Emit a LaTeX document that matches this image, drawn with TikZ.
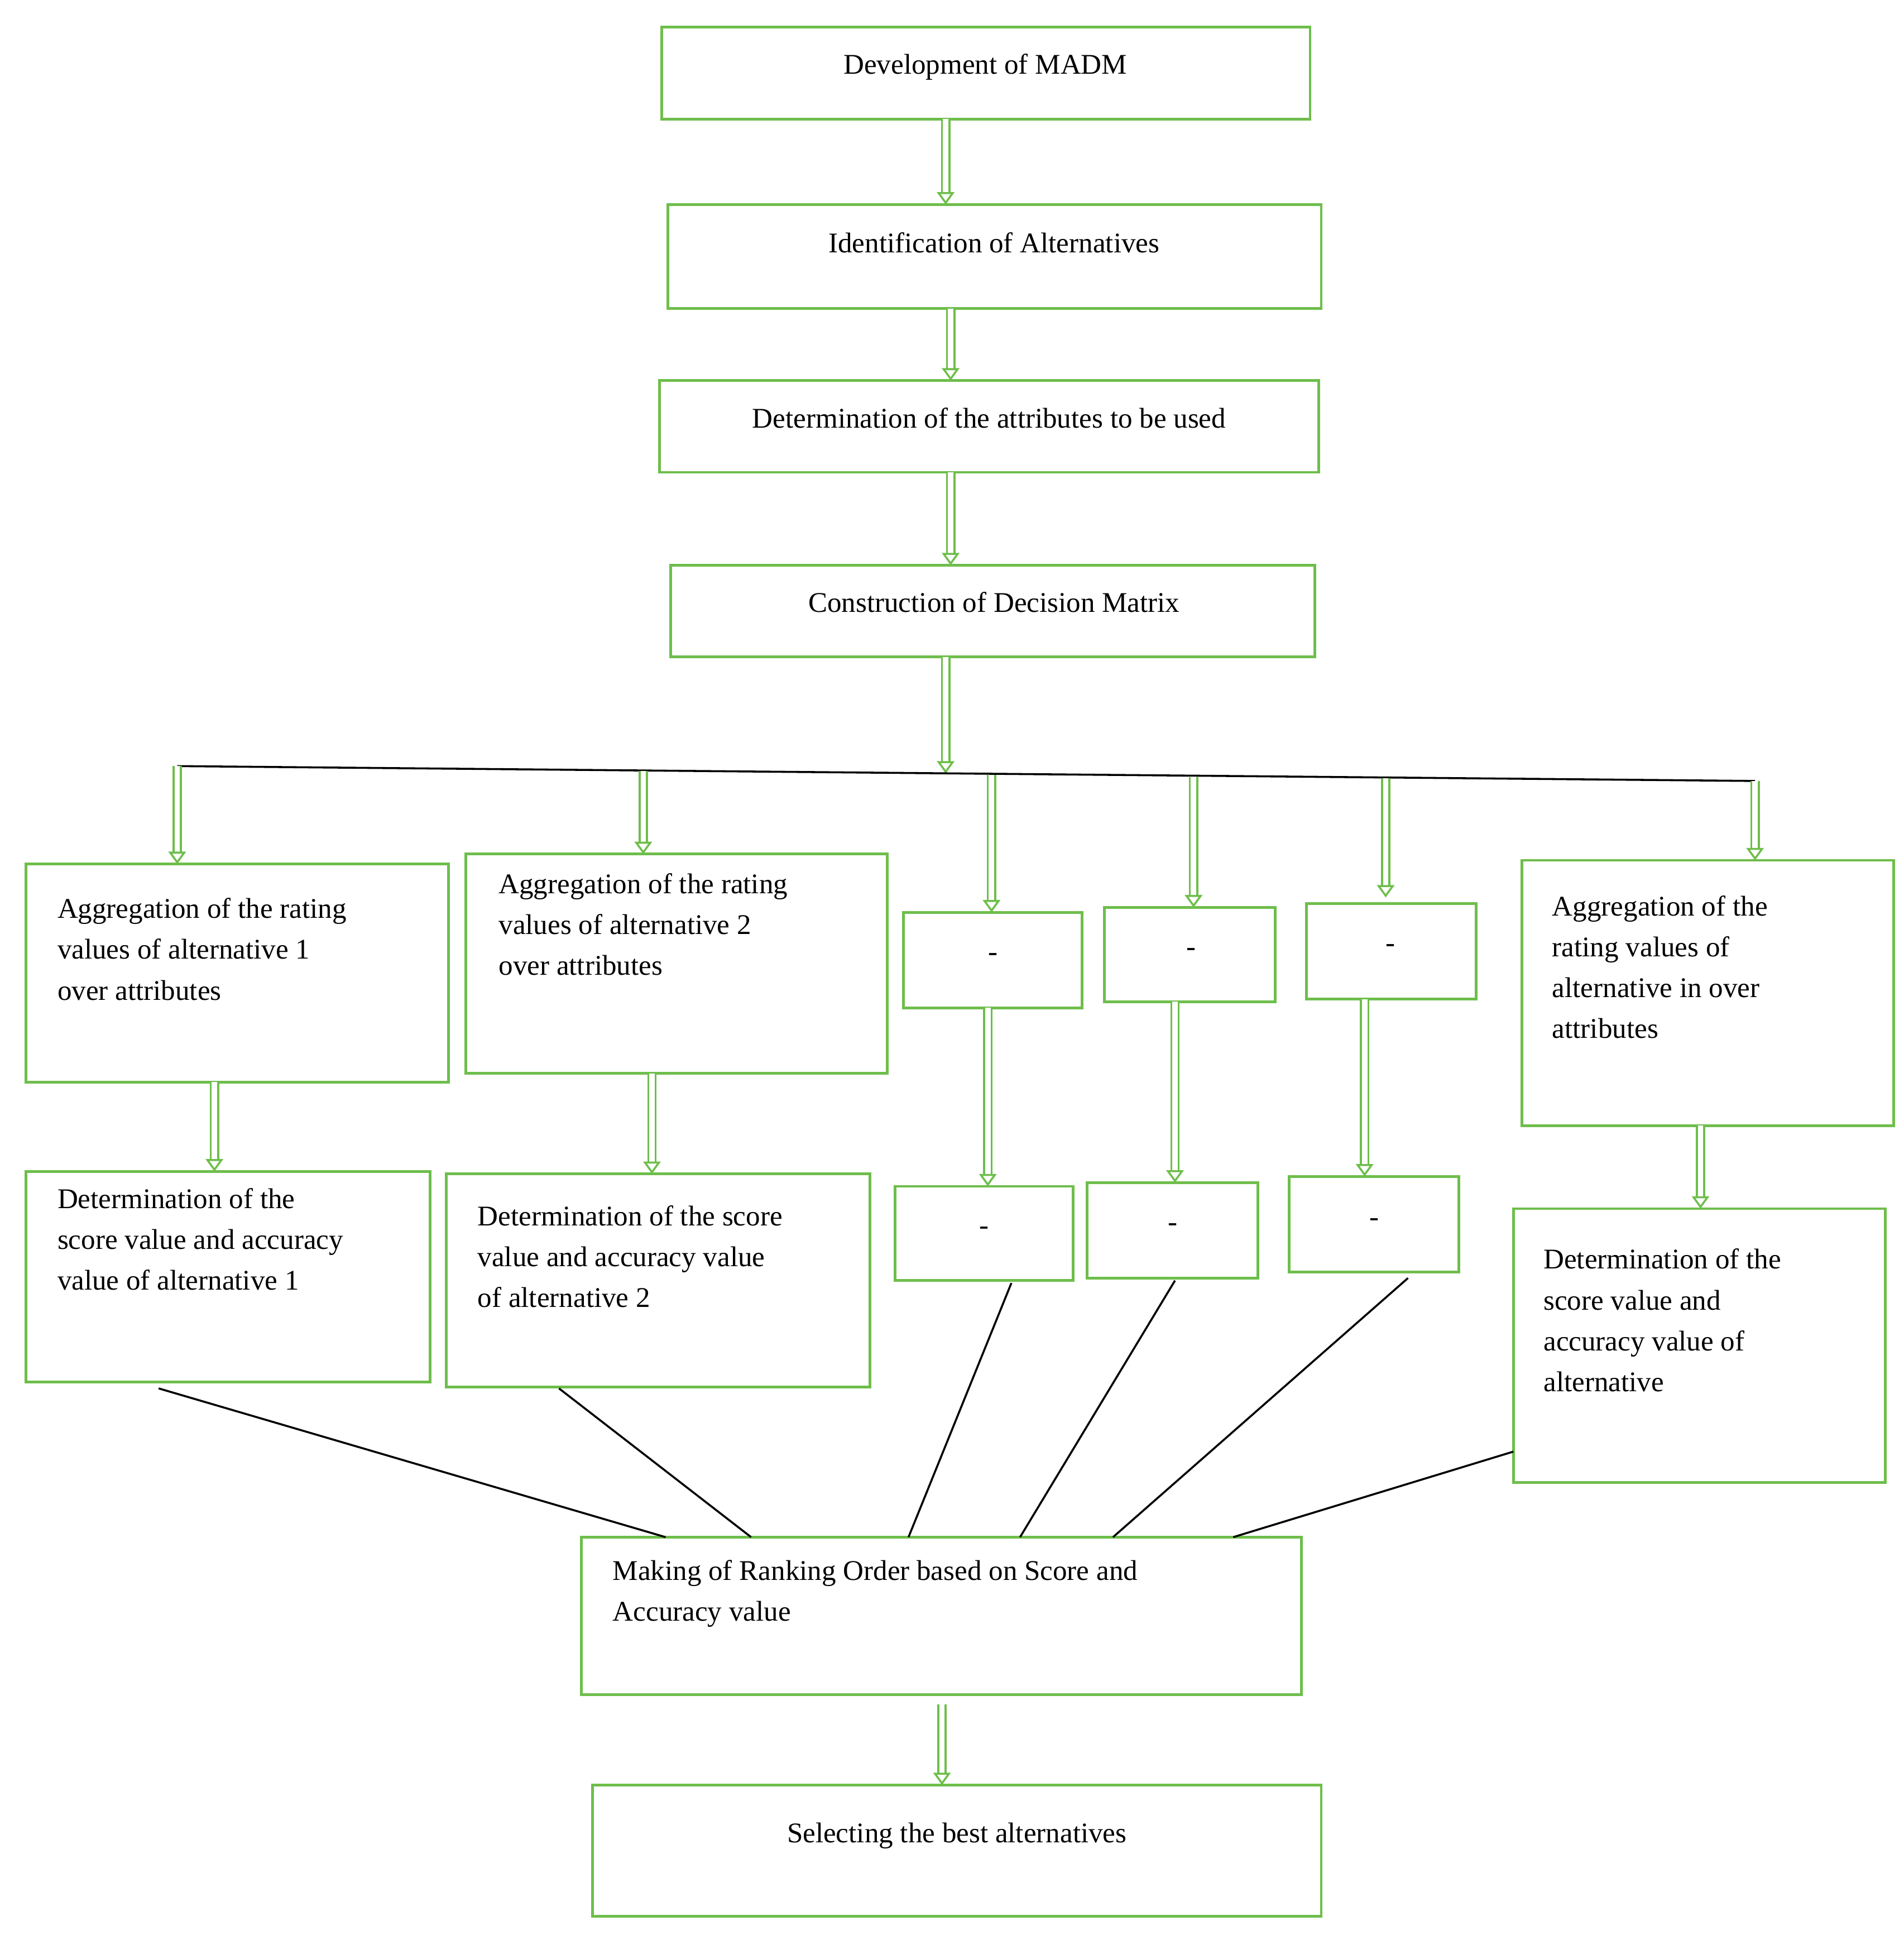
\documentclass[tikz,border=0pt]{standalone}
\usepackage{fontspec}
\setmainfont{Liberation Serif}
\usetikzlibrary{arrows.meta}
\definecolor{gr}{RGB}{110,190,75}
\begin{document}
\begin{tikzpicture}[x=0.5pt,y=-0.5pt,
  box/.style={draw=gr,line width=1.1pt,inner sep=0pt},
  txt/.style={font=\fontsize{11.5}{16.5}\selectfont,align=left,inner sep=0pt,anchor=north west},
  ctxt/.style={font=\fontsize{11.5}{16.5}\selectfont,inner sep=0pt},
  arr/.style={draw=gr,double=white,double distance=2.2pt,line width=0.8pt,-{Triangle[open,width=7pt,length=5pt]}},
  ln/.style={draw=black,line width=0.8pt}]
\useasboundingbox (0,0) rectangle (1536,1565);
\newcommand{\bx}[5]{\path[box] (#2,#3) rectangle (#4,#5); \path (#2,#3) rectangle (#4,#5) node[pos=0.5,inner sep=0pt,minimum width={(#4-#2)*0.5pt},minimum height={(#5-#3)*0.5pt}] (#1) {};}
\bx{b1}{534}{22}{1057}{96}
\bx{b2}{539}{165}{1066}{249}
\bx{b3}{532}{307}{1064}{381}
\bx{b4}{541}{456}{1061}{530}
\node[ctxt] (t1) at (795,54) {Development of MADM};
\node[ctxt] (t2) at (802,196) {Identification of Alternatives};
\node[ctxt] (t3) at (798,337) {Determination of the attributes to be used};
\node[ctxt] (t4) at (802,486) {Construction of Decision Matrix};
\draw[arr] (763,96) -- (763,165);
\draw[arr] (767,249) -- (767,307);
\draw[arr] (767,381) -- (767,456);
\draw[arr] (763,530) -- (763,624);
\coordinate (L) at (143,618); \coordinate (R) at (1416,630);
\draw[ln] (L) -- (R);
\bx{a1}{21}{697}{362}{873}
\bx{a2}{376}{689}{716}{866}
\bx{d1}{729}{736}{873}{813}
\bx{d2}{891}{732}{1029}{808}
\bx{d3}{1054}{729}{1191}{806}
\bx{an}{1228}{694}{1528}{908}
\node[txt] (ta1) at (46,724) {Aggregation of the rating\\values of alternative 1\\over attributes};
\node[txt] (ta2) at (402,704) {Aggregation of the rating\\values of alternative 2\\over attributes};
\node[ctxt] (td1) at (801,772) {-};
\node[ctxt] (td2) at (961,768) {-};
\node[ctxt] (td3) at (1122,765) {-};
\node[txt] (tan) at (1252,722) {Aggregation of the\\rating values of\\alternative in over\\attributes};
\coordinate (s1) at (143,618); \coordinate (s2) at (519,622); \coordinate (s3) at (800,625);
\coordinate (s4) at (963,627); \coordinate (s5) at (1118,628); \coordinate (s6) at (1416,630);
\draw[arr] (s1) -- (143,697);
\draw[arr] (s2) -- (519,689);
\draw[arr] (s3) -- (800,736);
\draw[arr] (s4) -- (963,732);
\draw[arr] (s5) -- (1118,724);
\draw[arr] (s6) -- (1416,694);
\bx{e1}{21}{945}{347}{1115}
\bx{e2}{360}{947}{702}{1119}
\bx{f1}{722}{957}{866}{1033}
\bx{f2}{877}{954}{1015}{1031}
\bx{f3}{1040}{949}{1177}{1026}
\bx{en}{1221}{975}{1521}{1196}
\node[txt] (te1) at (46,958) {Determination of the\\score value and accuracy\\value of alternative 1};
\node[txt] (te2) at (385,972) {Determination of the score\\value and accuracy value\\of alternative 2};
\node[ctxt] (tf1) at (794,993) {-};
\node[ctxt] (tf2) at (946,990) {-};
\node[ctxt] (tf3) at (1109,986) {-};
\node[txt] (ten) at (1245,1007) {Determination of the\\score value and\\accuracy value of\\alternative};
\draw[arr] (173,873) -- (173,945);
\draw[arr] (526,866) -- (526,947);
\draw[arr] (797,813) -- (797,957);
\draw[arr] (948,808) -- (948,954);
\draw[arr] (1101,806) -- (1101,949);
\draw[arr] (1372,908) -- (1372,975);
\bx{rk}{469}{1240}{1050}{1367}
\node[txt] (trk) at (494,1258) {Making of Ranking Order based on Score and\\Accuracy value};
\draw[ln] (128,1120) -- (537,1240);
\draw[ln] (451,1120) -- (606,1240);
\draw[ln] (816,1035) -- (733,1240);
\draw[ln] (948,1033) -- (823,1240);
\draw[ln] (1136,1031) -- (898,1240);
\draw[ln] (1221,1171) -- (995,1240);
\bx{sel}{478}{1440}{1066}{1546}
\node[ctxt] (tsel) at (772,1481) {Selecting the best alternatives};
\draw[arr] (760,1375) -- (760,1440);
\end{tikzpicture}
\end{document}
